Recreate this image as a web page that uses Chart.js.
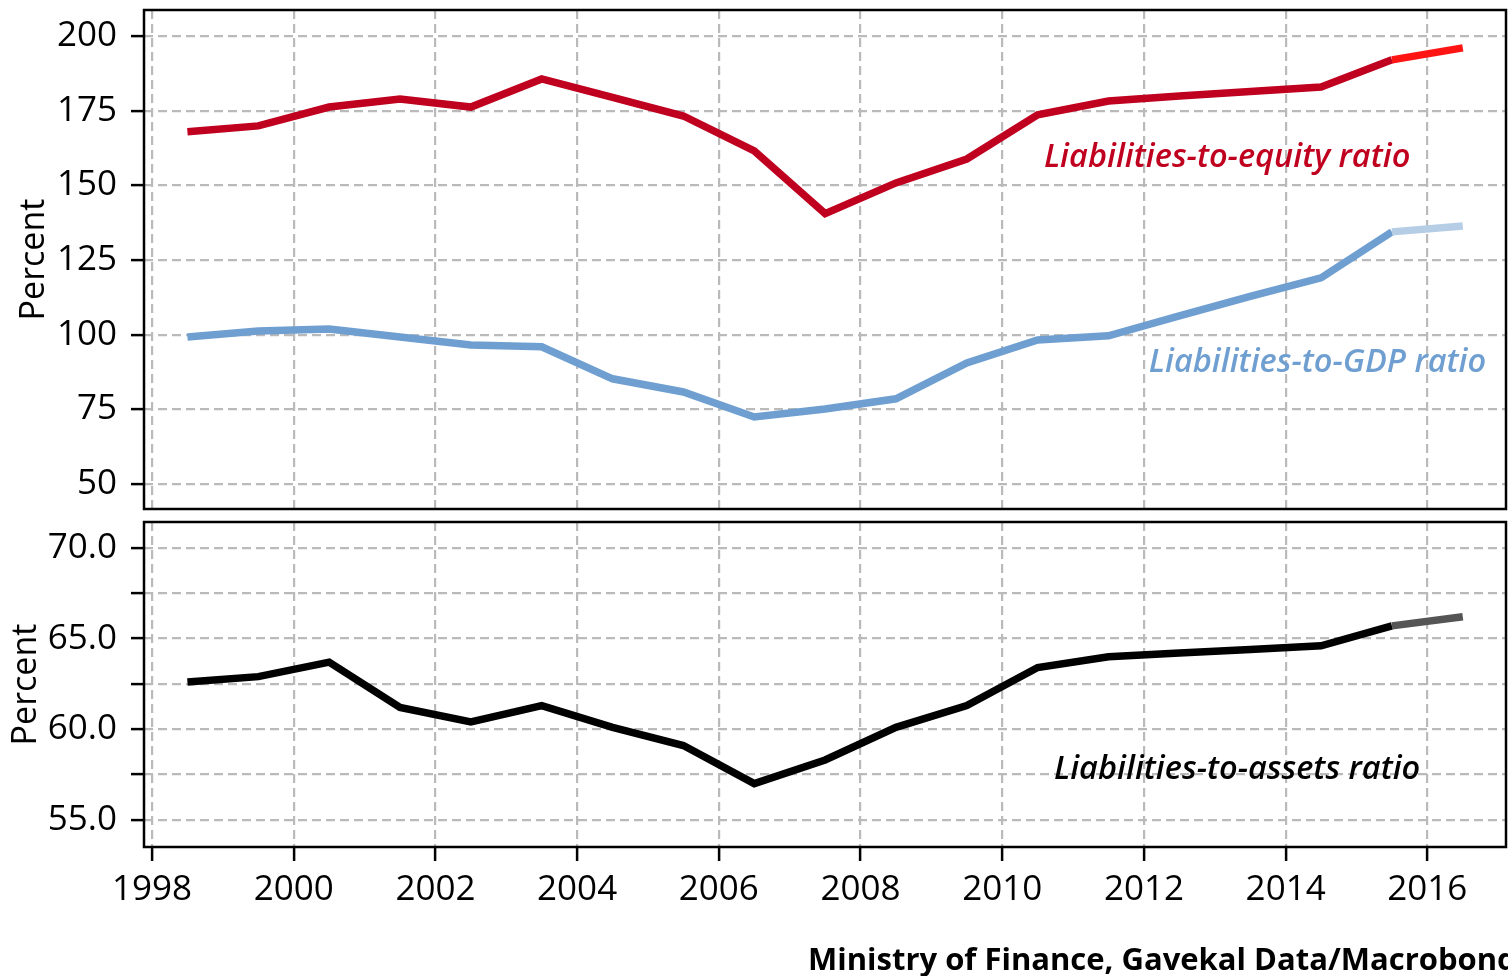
<!DOCTYPE html>
<html>
<head>
<meta charset="utf-8">
<script src="https://cdn.jsdelivr.net/npm/chart.js@4.4.0/dist/chart.umd.min.js"></script>
<style>
  html, body { margin: 0; padding: 0; background: #fff; overflow: hidden; width: 1508px; height: 976px; }
  canvas { position: absolute; left: 0; }
  #top { top: 0; }
  #bottom { top: 512px; }
  #source { position: absolute; left: 808px; top: 942px; font: bold 31px "Open Sans"; line-height: 32px; white-space: nowrap; color: #000; }
</style>
</head>
<body>
<canvas id="top" width="1508" height="515"></canvas>
<canvas id="bottom" width="1508" height="464"></canvas>
<div id="source">Ministry of Finance, Gavekal Data/Macrobond</div>
<script>
// annual data, plotted at mid-year
const years = [1998, 1999, 2000, 2001, 2002, 2003, 2004, 2005, 2006, 2007, 2008, 2009, 2010, 2011, 2012, 2013, 2014, 2015, 2016];
const equityRatio = [167.9, 169.9, 176.2, 178.9, 176.2, 185.6, 179.4, 173.2, 161.5, 140.5, 150.8, 158.8, 173.6, 178.2, 179.9, 181.4, 182.9, 192.0, 196.0];
const gdpRatio = [99.2, 101.2, 101.9, 99.2, 96.5, 95.9, 85.2, 80.8, 72.4, 75.1, 78.5, 90.5, 98.2, 99.6, 106.3, 112.8, 119.0, 134.4, 136.4];
const assetsRatio = [62.6, 62.9, 63.7, 61.2, 60.4, 61.3, 60.1, 59.1, 57.0, 58.3, 60.1, 61.3, 63.4, 64.0, 64.2, 64.4, 64.6, 65.7, 66.2];

const seriesNames = ["Liabilities-to-equity ratio", "Liabilities-to-GDP ratio", "Liabilities-to-assets ratio"];
const axisTitle = "Percent";

const FONT = "'Open Sans', 'Noto Sans', sans-serif";
const GRID = "#bababa";
const xMin = 1997.887, xMax = 2017.11;

const toPoints = (vals) => vals.map((v, i) => ({ x: years[i] + 0.5, y: v }));
// last year drawn in a lighter shade (estimate)
const lastSeg = (main, est) => ({
  borderColor: (ctx) => (ctx.p1DataIndex === years.length - 1 ? est : main),
});

//draws the panel frame and the in-chart series labels
const panelPlugin = {
  id: "panel",
  afterDraw(chart, args, opts) {
    const { ctx, chartArea: a, scales } = chart;
    ctx.save();
    for (const n of opts.notes || []) {
      ctx.font = "italic 600 32.5px " + FONT;
      ctx.fillStyle = n.color;
      ctx.textAlign = "right";
      ctx.textBaseline = "middle";
      ctx.fillText(n.text, scales.x.getPixelForValue(n.x), scales.y.getPixelForValue(n.y));
    }
    ctx.strokeStyle = "#000";
    ctx.lineWidth = 2.5;
    ctx.strokeRect(a.left, a.top, a.right - a.left, a.bottom - a.top);
    ctx.restore();
  },
};

// no extra room for labels hanging over the ends, the frame is placed by hand
const noOverhang = (s) => {
  s.paddingTop = 0; s.paddingBottom = 0; s.paddingLeft = 0; s.paddingRight = 0;
};

const yTitle = (pad) => ({
  display: true,
  text: axisTitle,
  color: "#000",
  font: { family: FONT, size: 34 },
  padding: { top: pad, bottom: 0 },
});

const xScale = (showTicks, h) => ({
  type: "linear",
  min: xMin,
  max: xMax,
  afterFit: (s) => { s.height = h; noOverhang(s); },
  border: { display: false, dash: [9, 5] },
  grid: {
    color: GRID,
    lineWidth: 2.2,
    drawTicks: showTicks,
    tickLength: 14,
    tickColor: "#000",
    tickWidth: 2.5,
    tickBorderDash: [],
  },
  ticks: {
    display: showTicks,
    stepSize: 2,
    includeBounds: false,
    padding: 8,
    color: "#000",
    font: { family: FONT, size: 35 },
    callback: (v) => String(v),
    maxRotation: 0,
  },
});

const yScale = (min, max, step, fmt, titlePad) => ({
  min: min,
  max: max,
  afterFit: (s) => { s.width = 144; noOverhang(s); },
  border: { display: false, dash: [9, 5] },
  title: yTitle(titlePad),
  grid: {
    color: GRID,
    lineWidth: 2.2,
    tickLength: 13,
    tickColor: "#000",
    tickWidth: 2.5,
    tickBorderDash: [],
  },
  ticks: {
    stepSize: step,
    includeBounds: false,
    padding: 14,
    color: "#000",
    font: { family: FONT, size: 35 },
    callback: fmt,
  },
});

const baseLine = { borderWidth: 7.5, pointRadius: 0, fill: false, tension: 0 };

new Chart(document.getElementById("top"), {
  type: "line",
  plugins: [panelPlugin],
  data: {
    datasets: [
      { ...baseLine, label: seriesNames[0], data: toPoints(equityRatio), borderColor: "#c0001f", segment: lastSeg("#c0001f", "#ff1414") },
      { ...baseLine, label: seriesNames[1], data: toPoints(gdpRatio), borderColor: "#6f9fd1", segment: lastSeg("#6f9fd1", "#b6cde6") },
    ],
  },
  options: {
    responsive: false,
    animation: false,
    layout: { padding: { top: 10, right: 2, left: 0, bottom: 0 } },
    scales: {
      x: xScale(false, 6),
      y: yScale(41.6, 208.7, 25, (v) => String(v), 14),
    },
    plugins: {
      legend: { display: false },
      tooltip: { enabled: false },
      panel: {
        notes: [
          { text: seriesNames[0], color: "#c0001f", x: 2015.76, y: 159.2 },
          { text: seriesNames[1], color: "#6f9fd1", x: 2016.83, y: 90.5 },
        ],
      },
    },
  },
});

new Chart(document.getElementById("bottom"), {
  type: "line",
  plugins: [panelPlugin],
  data: {
    datasets: [
      { ...baseLine, label: seriesNames[2], data: toPoints(assetsRatio), borderColor: "#000", segment: lastSeg("#000", "#555") },
    ],
  },
  options: {
    responsive: false,
    animation: false,
    layout: { padding: { top: 10, right: 2, left: 0, bottom: 0 } },
    scales: {
      x: xScale(true, 129),
      y: yScale(53.5, 71.43, 2.5, (v) => (v % 5 === 0 ? v.toFixed(1) : ""), 6),
    },
    plugins: {
      legend: { display: false },
      tooltip: { enabled: false },
      panel: {
        notes: [
          { text: seriesNames[2], color: "#000", x: 2015.9, y: 57.75 },
        ],
      },
    },
  },
});
</script>
</body>
</html>
